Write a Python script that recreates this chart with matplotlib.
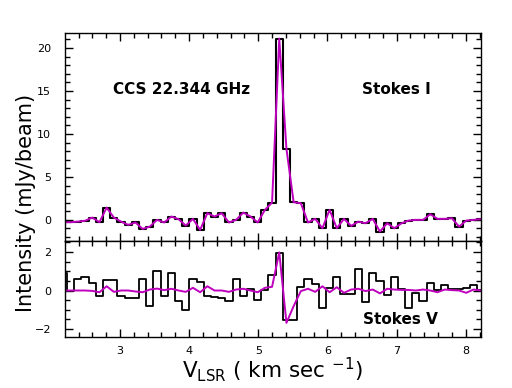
import matplotlib
matplotlib.use('Agg')
import matplotlib.pyplot as plt
from matplotlib.ticker import MultipleLocator
import numpy as np

# channel velocities (km/s)
vel = [2.183, 2.287, 2.391, 2.495, 2.599, 2.703, 2.807, 2.911, 3.015, 3.119,
       3.223, 3.327, 3.431, 3.535, 3.639, 3.743, 3.847, 3.951, 4.055, 4.159,
       4.263, 4.367, 4.471, 4.575, 4.679, 4.783, 4.887, 4.991, 5.095, 5.199,
       5.303, 5.407, 5.511, 5.615, 5.719, 5.823, 5.927, 6.031, 6.135, 6.239,
       6.343, 6.447, 6.551, 6.655, 6.759, 6.863, 6.967, 7.071, 7.175, 7.279,
       7.383, 7.487, 7.591, 7.695, 7.799, 7.903, 8.007, 8.111, 8.215]

# Stokes I (mJy/beam)
stokes_i = [-0.27, -0.27, -0.2, -0.1, 0.27, -0.27, 1.43, 0.27, -0.2, -0.58,
            -0.3, -1.05, -0.78, 0.0, -0.3, 0.39, 0.08, -0.66, 0.12, -1.16,
            0.78, 0.39, 0.78, -0.3, 0.0, 0.85, 0.39, -0.3, 1.16, 2.02,
            21.1, 8.26, 2.05, 1.94, -0.3, 0.12, -0.97, 1.16, -0.97, 0.12,
            -0.7, -0.2, -0.39, 0.12, -1.36, -0.39, -0.97, -0.39, -0.08, 0.0,
            0.0, 0.66, 0.12, 0.12, 0.19, -0.78, -0.08, 0.0, 0.08]

# Stokes V (mJy/beam)
stokes_v = [0.9, 0.0, 0.6, 0.71, 0.4, -0.3, 0.52, 0.52, -0.3, -0.38,
            -0.4, 0.6, -0.81, 1.0, -0.3, 0.9, -0.52, -1.02, 0.6, 0.43,
            -0.3, -0.33, -0.4, -0.57, 0.6, -0.3, 0.1, -0.48, 0.04, 0.8,
            1.95, -1.55, -1.55, 0.19, 0.6, 0.36, -0.93, 0.15, 0.71, -0.2,
            -0.2, 1.09, -0.59, 0.92, 0.48, -0.21, 0.69, 0.09, -0.9, -0.12,
            -0.55, 0.4, 0.05, 0.31, 0.09, 0.09, 0.14, 0.31, 0.05]

# fitted Stokes V (magenta)
fit_v = [0.0, 0.0, 0.0, 0.0, -0.02, -0.09, 0.22, -0.07, 0.0, 0.0,
         -0.05, -0.09, 0.05, 0.1, 0.02, 0.09, 0.0, -0.07, 0.14, -0.09,
         0.22, 0.0, 0.0, -0.07, 0.05, 0.09, 0.0, -0.09, 0.14, 0.19,
         1.98, -1.68, -0.81, -0.03, 0.09, -0.07, 0.22, -0.09, 0.17, -0.12,
         0.05, 0.09, -0.03, 0.05, -0.15, 0.09, 0.05, 0.03, 0.03, 0.0,
         0.05, 0.0, -0.09, 0.05, 0.02, 0.0, -0.12, 0.05, 0.0]

fig = plt.figure(figsize=(5.12, 3.88), dpi=100)
ax1 = fig.add_axes([0.127, 0.379, 0.812, 0.536])
ax2 = fig.add_axes([0.127, 0.131, 0.812, 0.248], sharex=ax1)

ax1.step(vel, stokes_i, where='mid', color='black', lw=1.5)
ax1.plot(vel, stokes_i, color='m', lw=1.4)
ax2.step(vel, stokes_v, where='mid', color='black', lw=1.3)
ax2.plot(vel, fit_v, color='m', lw=1.4)

ax1.set_xlim(2.205, 8.217)
ax1.set_ylim(-2.45, 21.75)
ax2.set_ylim(-2.42, 2.57)

ax1.yaxis.set_major_locator(MultipleLocator(5))
ax1.yaxis.set_minor_locator(MultipleLocator(1))
ax2.yaxis.set_major_locator(MultipleLocator(2))
ax2.yaxis.set_minor_locator(MultipleLocator(0.5))
ax2.xaxis.set_major_locator(MultipleLocator(1))
ax2.xaxis.set_minor_locator(MultipleLocator(0.2))

for ax in (ax1, ax2):
    ax.tick_params(which='both', direction='in', top=True, right=True, labelsize=8)
    ax.tick_params(which='major', length=6, width=1)
    ax.tick_params(which='minor', length=3.5, width=1)
    ax.tick_params(axis='y', which='major', pad=10)
    for s in ax.spines.values():
        s.set_linewidth(1.0)
ax1.tick_params(labelbottom=False)
ax2.tick_params(axis='x', which='major', pad=6)

ax1.text(0.115, 0.73, 'CCS 22.344 GHz', transform=ax1.transAxes,
         fontsize=11, fontweight='bold', va='center')
ax1.text(0.715, 0.73, 'Stokes I', transform=ax1.transAxes,
         fontsize=11, fontweight='bold', va='center')
ax2.text(0.717, 0.18, 'Stokes V', transform=ax2.transAxes,
         fontsize=11, fontweight='bold', va='center')

ax2.set_xlabel(r'V$_{\rm LSR}$ ( km sec $^{-1}$)', fontsize=15.5, labelpad=0)
fig.text(0.05, 0.477, 'Intensity (mJy/beam)', rotation=90, fontsize=15,
         ha='center', va='center')

fig.savefig('out.png', dpi=100)
